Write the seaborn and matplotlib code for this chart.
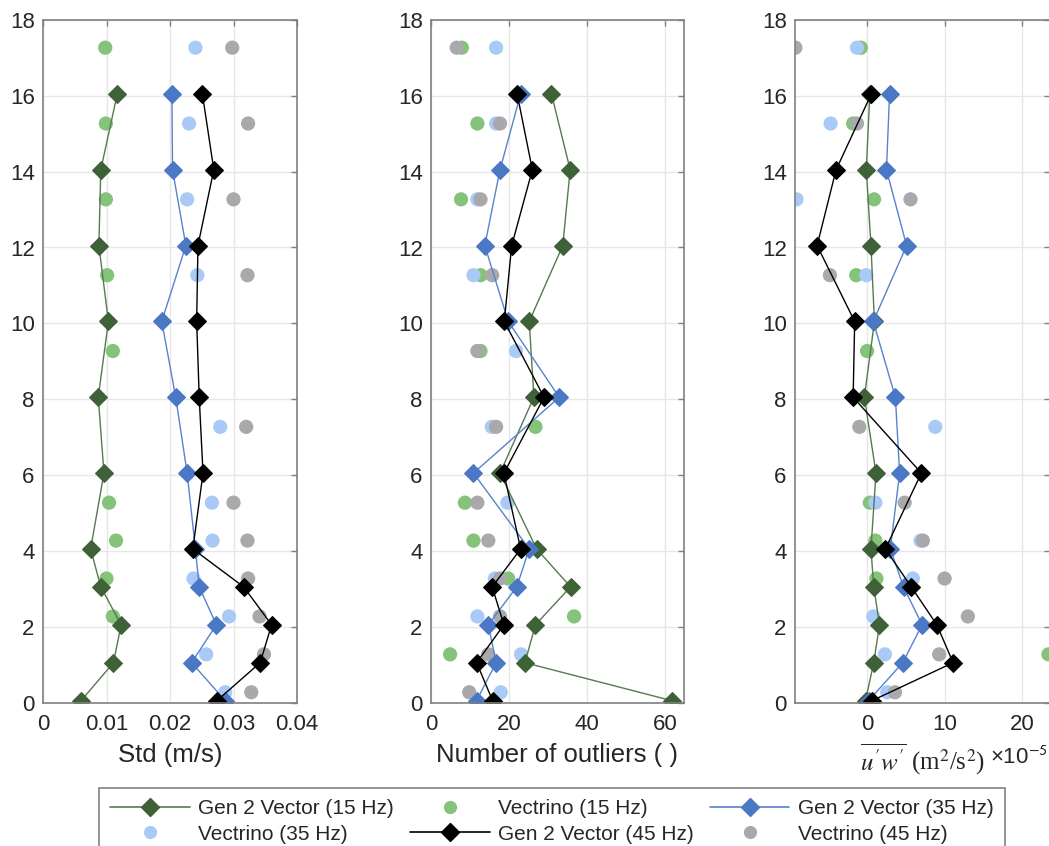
import numpy as np
import matplotlib
matplotlib.use("Agg")
import matplotlib.pyplot as plt
from matplotlib.lines import Line2D
import seaborn as sns

sns.set_theme(style="whitegrid")
plt.rcParams['font.family'] = ['Liberation Sans', 'DejaVu Sans']
plt.rcParams['mathtext.fontset'] = 'stix'

nan = np.nan

# heights (same for every panel)
y_gen = [0.05, 1.05, 2.05, 3.05, 4.05, 6.05, 8.05, 10.05, 12.05, 14.05, 16.05]
y_vtr = [0.27, 1.27, 2.27, 3.27, 4.27, 5.27, 7.27, 9.27, 11.27, 13.27, 15.27, 17.27]

# panel 1: std (m/s)
std_gen15 = [0.0060, 0.0111, 0.0123, 0.0091, 0.0075, 0.0096, 0.0087, 0.0103, 0.0088, 0.0091, 0.0117]
std_vtr15 = [nan, nan, 0.0110, 0.0100, 0.0115, 0.0104, nan, 0.0110, 0.0101, 0.0099, 0.0099, 0.0098]
std_gen35 = [0.0287, 0.0234, 0.0273, 0.0246, 0.0240, 0.0227, 0.0209, 0.0187, 0.0225, 0.0204, 0.0203]
std_vtr35 = [0.0287, 0.0257, 0.0293, 0.0237, 0.0267, 0.0266, 0.0279, nan, 0.0243, 0.0227, 0.0230, 0.0240]
std_gen45 = [0.0274, 0.0342, 0.0360, 0.0316, 0.0236, 0.0252, 0.0246, 0.0242, 0.0244, 0.0269, 0.0251]
std_vtr45 = [0.0328, 0.0348, 0.0341, 0.0323, 0.0322, 0.0300, 0.0320, nan, 0.0322, 0.0300, 0.0323, 0.0298]

# panel 2: number of outliers
out_gen15 = [61.7, 24.1, 26.8, 35.8, 27.1, 17.7, 26.4, 25.2, 33.8, 35.7, 30.9]
out_vtr15 = [nan, 4.9, 36.7, 19.8, 10.9, 8.7, 26.8, 12.7, 12.7, 7.7, 11.9, 7.9]
out_gen35 = [11.7, 16.7, 14.7, 22.0, 25.2, 10.9, 32.9, 19.8, 13.8, 17.7, 23.0]
out_vtr35 = [17.9, 23.1, 11.9, 16.4, nan, 19.6, 15.6, 21.8, 10.9, 11.9, 16.7, 16.7]
out_gen45 = [15.8, 11.7, 18.7, 15.7, 23.0, 18.7, 29.0, 18.8, 20.7, 26.0, 22.1]
out_vtr45 = [9.8, 14.7, 17.7, 17.7, 14.7, 11.9, 16.7, 11.9, 15.7, 12.7, 17.7, 6.6]

# panel 3: u'w' (x1e-5)
uw_gen15 = [-0.2, 0.86, 1.6, 0.86, 0.5, 1.15, -0.35, 0.95, 0.5, -0.1, 0.35]
uw_vtr15 = [nan, 23.4, nan, 1.2, 1.07, 0.35, nan, 0.0, -1.4, 0.9, -1.8, -0.8]
uw_gen35 = [0.2, 4.6, 7.1, 4.7, 3.0, 4.2, 3.65, 0.8, 5.1, 2.5, 2.9]
uw_vtr35 = [2.6, 2.3, 0.8, 5.9, 6.9, 1.07, 8.8, nan, -0.1, -9.1, -4.7, -1.3]
uw_gen45 = [0.65, 11.1, 9.0, 5.7, 2.36, 7.0, -1.8, -1.6, -6.45, -4.0, 0.55]
uw_vtr45 = [3.6, 9.3, 13.0, 10.0, 7.2, 4.85, -1.0, nan, -4.8, 5.6, -1.3, -9.25]

labels = ['Gen 2 Vector (15 Hz)', 'Vectrino (15 Hz)', 'Gen 2 Vector (35 Hz)',
          'Vectrino (35 Hz)', 'Gen 2 Vector (45 Hz)', 'Vectrino (45 Hz)']
c_g15, c_v15 = '#3f6138', '#85c27a'
c_g35, c_v35 = '#4a78c4', '#a9c9f7'
c_g45, c_v45 = '#000000', '#a9a9ac'
line_col = {'g15': '#567a4e', 'g35': '#5583cf', 'g45': '#000000'}

txt_col = '#262626'
spine_col = '#808080'

fig = plt.figure(figsize=(10.49, 8.46), dpi=100)
W, H = 1049, 846
def pos(l, r, t=20, b=702.5):
    return [l / W, 1 - b / H, (r - l) / W, (b - t) / H]

ax1 = fig.add_axes(pos(43, 297))
ax2 = fig.add_axes(pos(431, 684))
ax3 = fig.add_axes(pos(795, 1050))

panels = [
    (ax1, [std_gen15, std_vtr15, std_gen35, std_vtr35, std_gen45, std_vtr45]),
    (ax2, [out_gen15, out_vtr15, out_gen35, out_vtr35, out_gen45, out_vtr45]),
    (ax3, [uw_gen15, uw_vtr15, uw_gen35, uw_vtr35, uw_gen45, uw_vtr45]),
]

for ax, (g15, v15, g35, v35, g45, v45) in panels:
    for g, v, cg, cv, lc in [(g15, v15, c_g15, c_v15, line_col['g15']),
                             (g35, v35, c_g35, c_v35, line_col['g35']),
                             (g45, v45, c_g45, c_v45, line_col['g45'])]:
        sns.lineplot(x=g, y=y_gen, ax=ax, orient='y', estimator=None, sort=True,
                     color=lc, linewidth=1.0, marker='D', markersize=9,
                     markerfacecolor=cg, markeredgecolor=cg, legend=False)
        sns.scatterplot(x=v, y=y_vtr, ax=ax, color=cv, s=105,
                        edgecolor='none', legend=False)
    ax.set_ylim(0, 18)
    ax.set_yticks(np.arange(0, 19, 2))
    ax.grid(True, color='#e6e6e6', linewidth=1)
    ax.set_axisbelow(True)
    for sp in ax.spines.values():
        sp.set_color(spine_col)
        sp.set_linewidth(1.2)
    ax.tick_params(direction='in', top=True, right=True, length=4.5, width=1,
                   color=spine_col, labelsize=16, labelcolor=txt_col, pad=6)
    ax.tick_params(axis='x', pad=8)

ax1.set_xlim(0, 0.04)
ax1.set_xticks([0, 0.01, 0.02, 0.03, 0.04])
ax1.set_xticklabels(['0', '0.01', '0.02', '0.03', '0.04'])
ax1.set_xlabel('Std (m/s)', fontsize=18.5, color=txt_col, labelpad=6)

ax2.set_xlim(0, 64.9)
ax2.set_xticks([0, 20, 40, 60])
ax2.set_xlabel('Number of outliers ( )', fontsize=18.5, color=txt_col, labelpad=6)

ax3.set_xlim(-9.3, 23.6)
ax3.set_xticks([0, 10, 20])
ax3.set_xlabel(r"$\overline{u'w'}$ (m$^2$/s$^2$)", fontsize=18, color=txt_col,
               family=['Liberation Serif', 'DejaVu Serif'], labelpad=5)
fig.text(990 / W, 1 - 758 / H, r"×10$^{\mathsf{-5}}$", fontsize=16, color=txt_col,
         ha='left', va='center')

handles = [
    Line2D([], [], color=line_col['g15'], lw=1.2, marker='D', markersize=9,
           markerfacecolor=c_g15, markeredgecolor=c_g15),
    Line2D([], [], ls='none', marker='o', markersize=9.5, markerfacecolor=c_v15,
           markeredgecolor='none'),
    Line2D([], [], color=line_col['g35'], lw=1.2, marker='D', markersize=9,
           markerfacecolor=c_g35, markeredgecolor=c_g35),
    Line2D([], [], ls='none', marker='o', markersize=9.5, markerfacecolor=c_v35,
           markeredgecolor='none'),
    Line2D([], [], color=line_col['g45'], lw=1.2, marker='D', markersize=9,
           markerfacecolor=c_g45, markeredgecolor=c_g45),
    Line2D([], [], ls='none', marker='o', markersize=9.5, markerfacecolor=c_v45,
           markeredgecolor='none'),
]
# matplotlib fills legend columns first -> reorder to read row by row
order = [0, 3, 1, 4, 2, 5]
leg = fig.legend([handles[i] for i in order], [labels[i] for i in order],
                 ncol=3, loc='upper left', bbox_to_anchor=(99 / W, 1 - 788 / H),
                 fontsize=15, frameon=True, fancybox=False, framealpha=1,
                 edgecolor=spine_col, handlelength=3.8, handletextpad=0.4,
                 columnspacing=0.8, labelspacing=0.3, borderpad=0.55,
                 borderaxespad=0)
leg.get_frame().set_linewidth(1.2)
for t in leg.get_texts():
    t.set_color(txt_col)

fig.savefig('out.png', dpi=100)
